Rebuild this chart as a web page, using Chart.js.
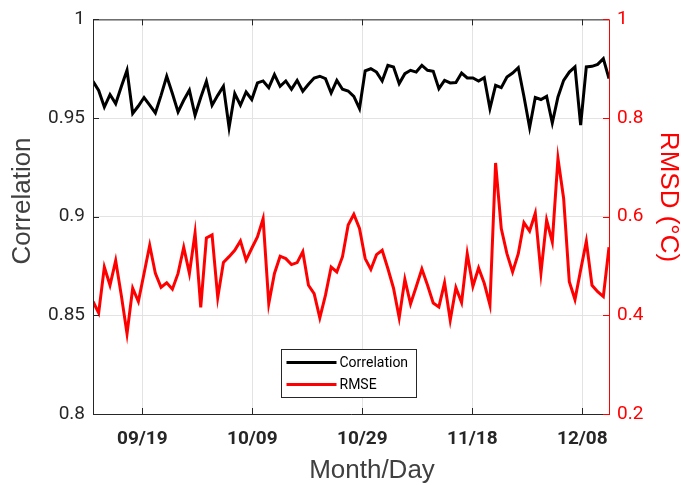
<!DOCTYPE html>
<html>
<head>
<meta charset="utf-8">
<script src="https://cdn.jsdelivr.net/npm/chart.js@4.4.0/dist/chart.umd.min.js"></script>
<style>
  html, body { margin: 0; padding: 0; background: #fff; }
  #wrap { width: 681px; height: 485px; }
</style>
</head>
<body>
<div id="wrap"><canvas id="chart"></canvas></div>
<script>
// daily samples, 09/10 .. 12/12
const correlation = [
  0.9686, 0.964, 0.9556, 0.9619, 0.9573, 0.966, 0.9742, 0.9523, 0.9561, 0.9604,
  0.9565, 0.9526, 0.9615, 0.9712, 0.9624, 0.9531, 0.959, 0.9641, 0.9514, 0.9604,
  0.9686, 0.9565, 0.9615, 0.9661, 0.9452, 0.9624, 0.9565, 0.9632, 0.9594, 0.9678,
  0.9688, 0.9654, 0.972, 0.9661, 0.9688, 0.9646, 0.9691, 0.9636, 0.9671, 0.9703,
  0.9712, 0.970, 0.9627, 0.9691, 0.9646, 0.9637, 0.961, 0.9548, 0.9739, 0.975,
  0.9733, 0.9688, 0.9767, 0.9759, 0.9675, 0.9725, 0.9742, 0.9733, 0.9767, 0.9742,
  0.9737, 0.9649, 0.9691, 0.9678, 0.968, 0.9728, 0.9703, 0.9703, 0.9688, 0.9705,
  0.9548, 0.9666, 0.9654, 0.9708, 0.9728, 0.9755, 0.9609, 0.9452, 0.9604, 0.9594,
  0.961, 0.9475, 0.9607, 0.9691, 0.9733, 0.9759, 0.9464, 0.9759, 0.9762, 0.9772,
  0.9801, 0.970
];
const rmse = [
  0.428, 0.405, 0.498, 0.461, 0.511, 0.44, 0.363, 0.455, 0.428, 0.485,
  0.542, 0.485, 0.457, 0.466, 0.453, 0.485, 0.538, 0.485, 0.567, 0.416,
  0.557, 0.563, 0.436, 0.507, 0.519, 0.532, 0.551, 0.512, 0.536, 0.559,
  0.596, 0.424, 0.485, 0.52, 0.515, 0.503, 0.507, 0.529, 0.461, 0.444,
  0.395, 0.441, 0.498, 0.488, 0.519, 0.583, 0.605, 0.576, 0.515, 0.493,
  0.523, 0.532, 0.495, 0.455, 0.395, 0.473, 0.423, 0.458, 0.494, 0.461,
  0.425, 0.417, 0.466, 0.39, 0.456, 0.426, 0.525, 0.459, 0.496, 0.465,
  0.421, 0.709, 0.576, 0.525, 0.488, 0.525, 0.588, 0.571, 0.607, 0.486,
  0.593, 0.549, 0.718, 0.637, 0.468, 0.432, 0.492, 0.55, 0.461, 0.448,
  0.438, 0.538
];
const tickLabels = ['09/19', '10/09', '10/29', '11/18', '12/08'];
const tickPos = [8.7, 28.1, 47.5, 66.9, 86.3];

const FONT = 'Roboto, "DejaVu Sans", sans-serif';
const TITLE_FONT = '26px "Liberation Sans", Arial, sans-serif';
const AXIS = '#262626';
const GRID = '#e3e3e3';

const toPoints = arr => arr.map((v, i) => ({ x: i, y: v }));

// MATLAB style box, inward ticks, axis titles and legend inside the plot
const matlabFrame = {
  id: 'matlabFrame',
  afterDraw(chart) {
    const { ctx, chartArea: a, scales } = chart;
    const t = 6;
    ctx.save();
    ctx.lineWidth = 1;
    ctx.strokeStyle = AXIS;
    ctx.beginPath();
    ctx.moveTo(a.right, a.top + 0.5); ctx.lineTo(a.left + 0.5, a.top + 0.5);
    ctx.lineTo(a.left + 0.5, a.bottom + 0.5); ctx.lineTo(a.right, a.bottom + 0.5);
    scales.x.ticks.forEach(tk => {
      const px = Math.round(scales.x.getPixelForValue(tk.value)) + 0.5;
      ctx.moveTo(px, a.bottom); ctx.lineTo(px, a.bottom - t);
      ctx.moveTo(px, a.top); ctx.lineTo(px, a.top + t);
    });
    scales.y.ticks.forEach(tk => {
      const py = Math.round(scales.y.getPixelForValue(tk.value)) + 0.5;
      ctx.moveTo(a.left, py); ctx.lineTo(a.left + t, py);
    });
    ctx.stroke();
    ctx.strokeStyle = '#ff0000';
    ctx.beginPath();
    ctx.moveTo(a.right + 0.5, a.top); ctx.lineTo(a.right + 0.5, a.bottom + 1);
    scales.y1.ticks.forEach(tk => {
      const py = Math.round(scales.y1.getPixelForValue(tk.value)) + 0.5;
      ctx.moveTo(a.right, py); ctx.lineTo(a.right - t, py);
    });
    ctx.stroke();

    // axis titles
    ctx.font = TITLE_FONT;
    ctx.textAlign = 'center';
    ctx.textBaseline = 'middle';
    ctx.fillStyle = '#404040';
    ctx.fillText('Month/Day', 372, 471);
    ctx.save();
    ctx.translate(23, 201);
    ctx.rotate(-Math.PI / 2);
    ctx.fillText('Correlation', 0, 0);
    ctx.restore();
    ctx.save();
    ctx.translate(668, 197);
    ctx.rotate(Math.PI / 2);
    ctx.fillStyle = '#ff0000';
    ctx.fillText('RMSD (°C)', 0, 0);
    ctx.restore();

    // legend box
    const bx = 281.5, by = 349.5, bw = 135, bh = 48;
    ctx.fillStyle = '#fff';
    ctx.fillRect(bx, by, bw, bh);
    ctx.lineWidth = 1;
    ctx.strokeStyle = '#262626';
    ctx.strokeRect(bx, by, bw, bh);
    ctx.font = '14px ' + FONT;
    ctx.textAlign = 'left';
    ctx.textBaseline = 'middle';
    chart.data.datasets.forEach((ds, i) => {
      const y = by + 13 + i * 22;
      ctx.strokeStyle = ds.borderColor;
      ctx.lineWidth = 3;
      ctx.beginPath();
      ctx.moveTo(bx + 5, y); ctx.lineTo(bx + 55, y);
      ctx.stroke();
      ctx.fillStyle = '#000';
      ctx.fillText(ds.label, bx + 58, y + 1);
    });
    ctx.restore();
  }
};

new Chart(document.getElementById('chart'), {
  type: 'line',
  data: {
    datasets: [
      {
        label: 'Correlation',
        data: toPoints(correlation),
        borderColor: '#000000',
        borderWidth: 3,
        pointRadius: 0,
        tension: 0,
        yAxisID: 'y'
      },
      {
        label: 'RMSE',
        data: toPoints(rmse),
        borderColor: '#ff0000',
        borderWidth: 3,
        pointRadius: 0,
        tension: 0,
        yAxisID: 'y1'
      }
    ]
  },
  options: {
    responsive: true,
    maintainAspectRatio: false,
    animation: false,
    layout: { padding: { top: 19, left: 0, right: 0, bottom: 0 } },
    plugins: { legend: { display: false }, tooltip: { enabled: false } },
    scales: {
      x: {
        type: 'linear',
        min: 0,
        max: 91,
        afterBuildTicks: axis => { axis.ticks = tickPos.map(v => ({ value: v })); },
        afterFit: axis => { axis.height = 71; },
        grid: { color: GRID, drawTicks: false },
        border: { display: false },
        ticks: {
          callback: (v, i) => tickLabels[i],
          color: AXIS,
          font: { family: FONT, size: 19, weight: 'bold' },
          padding: 14,
          maxRotation: 0
        }
      },
      y: {
        position: 'left',
        min: 0.8,
        max: 1,
        afterFit: axis => { axis.width = 93; },
        grid: { color: GRID, drawTicks: false },
        border: { display: false },
        ticks: {
          stepSize: 0.05,
          callback: v => String(+v.toFixed(2)),
          color: AXIS,
          font: { family: FONT, size: 19 },
          padding: 8
        }
      },
      y1: {
        position: 'right',
        min: 0.2,
        max: 1,
        afterFit: axis => { axis.width = 72; },
        grid: { drawOnChartArea: false, drawTicks: false },
        border: { display: false },
        ticks: {
          stepSize: 0.2,
          callback: v => String(+v.toFixed(1)),
          color: '#ff0000',
          font: { family: FONT, size: 19 },
          padding: 8
        }
      }
    }
  },
  plugins: [matlabFrame]
});
</script>
</body>
</html>
